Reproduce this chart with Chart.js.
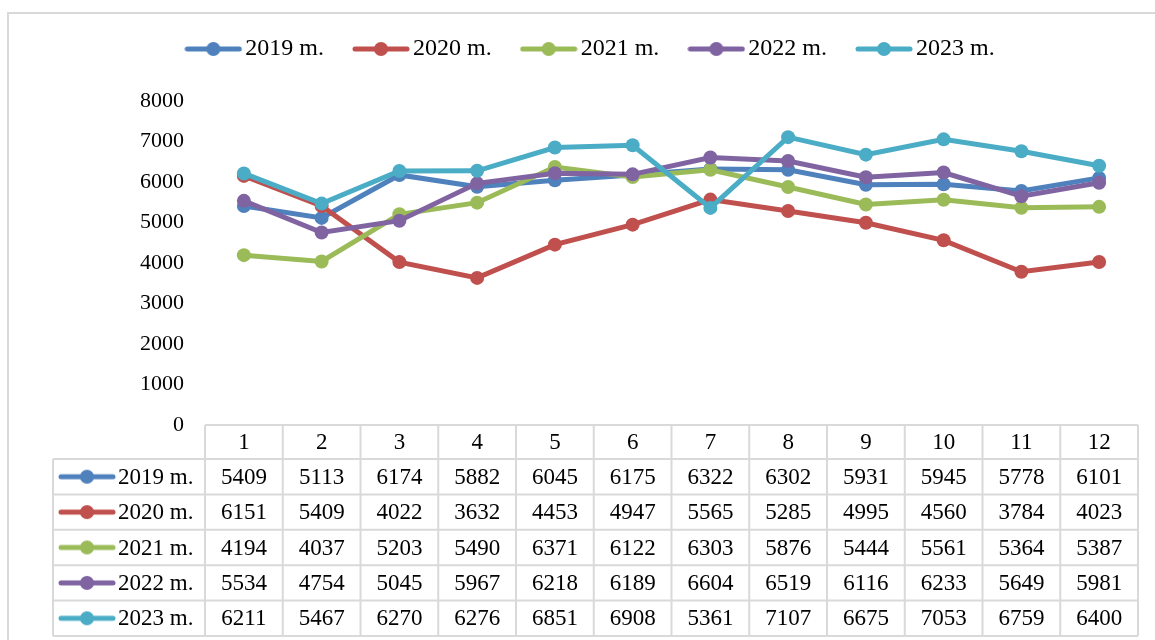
<!DOCTYPE html>
<html>
<head>
<meta charset="utf-8">
<script src="https://cdn.jsdelivr.net/npm/chart.js@4"></script>
<style>
  html, body { margin: 0; padding: 0; background: #fff; }
  #wrap { position: relative; width: 1155px; height: 640px; }
</style>
</head>
<body>
<div id="wrap"><canvas id="salesChart" width="1155" height="640"></canvas></div>
<script>
const months = ['1', '2', '3', '4', '5', '6', '7', '8', '9', '10', '11', '12'];
const seriesNames = ['2019 m.', '2020 m.', '2021 m.', '2022 m.', '2023 m.'];
const values2019 = [5409, 5113, 6174, 5882, 6045, 6175, 6322, 6302, 5931, 5945, 5778, 6101];
const values2020 = [6151, 5409, 4022, 3632, 4453, 4947, 5565, 5285, 4995, 4560, 3784, 4023];
const values2021 = [4194, 4037, 5203, 5490, 6371, 6122, 6303, 5876, 5444, 5561, 5364, 5387];
const values2022 = [5534, 4754, 5045, 5967, 6218, 6189, 6604, 6519, 6116, 6233, 5649, 5981];
const values2023 = [6211, 5467, 6270, 6276, 6851, 6908, 5361, 7107, 6675, 7053, 6759, 6400];
const allValues = [values2019, values2020, values2021, values2022, values2023];
const colors = ['#4F81BD', '#C0504D', '#9BBB59', '#8064A2', '#4BACC6'];

const FONT = '"Liberation Serif", "Times New Roman", serif';
const GRID = '#D9D9D9';

// small line + dot icon used in the legend and the table row headers
function makeKey(color) {
  const c = document.createElement('canvas');
  c.width = 58;
  c.height = 16;
  const g = c.getContext('2d');
  g.strokeStyle = color;
  g.lineWidth = 5;
  g.lineCap = 'round';
  g.beginPath();
  g.moveTo(3, 8);
  g.lineTo(55, 8);
  g.stroke();
  g.fillStyle = color;
  g.beginPath();
  g.arc(29, 8, 7, 0, Math.PI * 2);
  g.fill();
  return c;
}
const keys = colors.map(makeKey);

// push the plot area down, leaving the legend where it is
const legendGap = {
  id: 'legendGap',
  beforeInit(chart) {
    const fit = chart.legend.fit;
    chart.legend.fit = function () {
      fit.bind(chart.legend)();
      this.height += 30;
    };
  },
  afterLayout(chart) {
    // legend sits a bit right of the canvas centre
    chart.legend.left += 21;
    chart.legend.right += 21;
  }
};

// outer frame + data table under the plot, columns follow the x scale
const tablePlugin = {
  id: 'dataTable',
  beforeDraw(chart) {
    const ctx = chart.ctx;
    ctx.save();
    ctx.strokeStyle = GRID;
    ctx.lineWidth = 2;
    ctx.strokeRect(8, 13, 1160, 640);
    ctx.restore();
  },
  afterDraw(chart) {
    const ctx = chart.ctx;
    const x = chart.scales.x;
    const left = chart.chartArea.left;
    const right = chart.chartArea.right;
    const colW = (right - left) / months.length;
    const top = chart.chartArea.bottom;
    const headH = 34;
    const rowH = 35.4;
    const labelLeft = 53;
    const bottom = top + headH + rowH * seriesNames.length;

    ctx.save();
    ctx.strokeStyle = GRID;
    ctx.lineWidth = 2;
    ctx.beginPath();
    // header row
    ctx.moveTo(left, top);
    ctx.lineTo(right, top);
    // series rows
    for (let r = 0; r <= seriesNames.length; r++) {
      const y = top + headH + r * rowH;
      ctx.moveTo(labelLeft, y);
      ctx.lineTo(right, y);
    }
    ctx.moveTo(labelLeft, top + headH);
    ctx.lineTo(labelLeft, bottom);
    for (let c = 0; c <= months.length; c++) {
      const xx = left + c * colW;
      ctx.moveTo(xx, top);
      ctx.lineTo(xx, bottom);
    }
    ctx.stroke();

    ctx.fillStyle = '#000';
    ctx.font = '23px ' + FONT;
    ctx.textAlign = 'center';
    ctx.textBaseline = 'middle';
    months.forEach((m, i) => {
      ctx.fillText(m, x.getPixelForValue(i), top + headH / 2 + 1);
    });
    allValues.forEach((vals, r) => {
      const cy = top + headH + r * rowH + rowH / 2 + 1;
      vals.forEach((v, i) => {
        ctx.fillText(String(v), x.getPixelForValue(i), cy);
      });
      ctx.drawImage(keys[r], 58, cy - 9);
      ctx.textAlign = 'left';
      ctx.fillText(seriesNames[r], 118, cy);
      ctx.textAlign = 'center';
    });
    ctx.restore();
  }
};

const ctx = document.getElementById('salesChart').getContext('2d');
window.salesChart = new Chart(ctx, {
  type: 'line',
  data: {
    labels: months,
    datasets: allValues.map((vals, i) => ({
      label: seriesNames[i],
      data: vals,
      borderColor: colors[i],
      backgroundColor: colors[i],
      borderWidth: 5,
      pointRadius: 7,
      pointHoverRadius: 7,
      pointBorderWidth: 0,
      pointStyle: 'circle',
      tension: 0,
      order: allValues.length - i
    }))
  },
  options: {
    responsive: false,
    animation: false,
    events: [],
    layout: {
      padding: { left: 8, right: 17, top: 0, bottom: 215 }
    },
    plugins: {
      legend: {
        position: 'top',
        labels: {
          usePointStyle: true,
          pointStyleWidth: 40,
          boxHeight: 16,
          padding: 37,
          color: '#000',
          font: { family: FONT, size: 24 },
          generateLabels(chart) {
            return chart.data.datasets.map((ds, i) => ({
              text: ds.label,
              pointStyle: keys[i],
              fillStyle: ds.borderColor,
              strokeStyle: ds.borderColor,
              lineWidth: 0,
              hidden: false,
              datasetIndex: i
            }));
          }
        }
      },
      tooltip: { enabled: false }
    },
    scales: {
      x: {
        display: false,
        offset: true
      },
      y: {
        min: 0,
        max: 8000,
        border: { display: false },
        grid: { display: false, drawTicks: false },
        ticks: {
          stepSize: 1000,
          padding: 21,
          color: '#000',
          font: { family: FONT, size: 22 },
          callback: v => String(v)
        },
        afterFit(scale) { scale.width = 197; }
      }
    }
  },
  plugins: [legendGap, tablePlugin]
});
</script>
</body>
</html>
